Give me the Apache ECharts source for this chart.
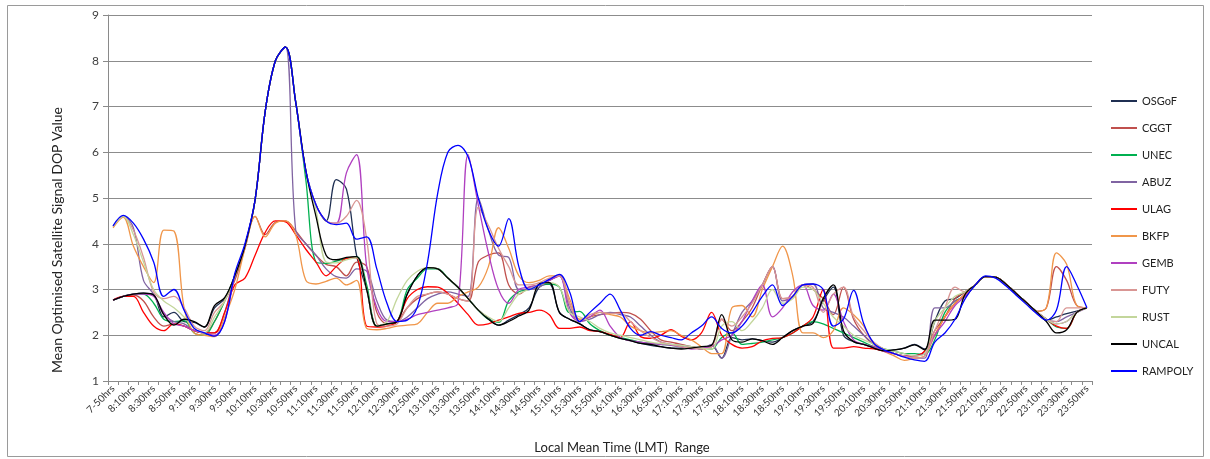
<!DOCTYPE html>
<html>
<head>
<meta charset="utf-8">
<script src="https://cdn.jsdelivr.net/npm/echarts@6/dist/echarts.min.js"></script>
<style>
  html, body { margin: 0; padding: 0; background: #fff; }
  #main { width: 1210px; height: 459px; }
</style>
</head>
<body>
<div id="main"></div>
<script>
// time slots, 10 min apart (label every other one)
var times = [
  '7-50hrs','8:00hrs','8:10hrs','8:20hrs','8:30hrs','8:40hrs','8:50hrs','9:00hrs','9:10hrs','9:20hrs',
  '9:30hrs','9:40hrs','9:50hrs','10:00hrs','10:10hrs','10:20hrs','10:30hrs','10:40hrs','10:50hrs','11:00hrs',
  '11:10hrs','11:20hrs','11:30hrs','11:40hrs','11:50hrs','12:00hrs','12:10hrs','12:20hrs','12:30hrs','12:40hrs',
  '12:50hrs','13:00hrs','13:10hrs','13:20hrs','13:30hrs','13:40hrs','13:50hrs','14:00hrs','14:10hrs','14:20hrs',
  '14:30hrs','14:40hrs','14:50hrs','15:00hrs','15:10hrs','15:20hrs','15:30hrs','15:40hrs','15:50hrs','16:00hrs',
  '16:10hrs','16:20hrs','16:30hrs','16:40hrs','16:50hrs','17:00hrs','17:10hrs','17:20hrs','17:30hrs','17:40hrs',
  '17:50hrs','18:00hrs','18:10hrs','18:20hrs','18:30hrs','18:40hrs','18:50hrs','19:00hrs','19:10hrs','19:20hrs',
  '19:30hrs','19:40hrs','19:50hrs','20:00hrs','20:10hrs','20:20hrs','20:30hrs','20:40hrs','20:50hrs','21:00hrs',
  '21:10hrs','21:20hrs','21:30hrs','21:40hrs','21:50hrs','22:00hrs','22:10hrs','22:20hrs','22:30hrs','22:40hrs',
  '22:50hrs','23:00hrs','23:10hrs','23:20hrs','23:30hrs','23:40hrs','23:50hrs'
];

var yTicks = [1, 2, 3, 4, 5, 6, 7, 8, 9];

var osgof = [
  2.77, 2.85, 2.9, 2.92, 2.88, 2.4, 2.5, 2.3, 2.28, 2.18,
  2.6, 2.8, 3.3, 3.95, 4.96, 6.9, 8.0, 8.3, 7.1, 5.6,
  4.85, 4.5, 5.4, 5.2, 3.75, 3.0, 2.2, 2.25, 2.3, 2.9,
  3.3, 3.48, 3.45, 3.25, 3.05, 2.8, 2.55, 2.38, 2.22, 2.33,
  2.45, 2.6, 3.05, 3.12, 2.5, 2.35, 2.25, 2.12, 2.08, 2.0,
  1.93, 1.88, 1.82, 1.78, 1.75, 1.72, 1.72, 1.75, 1.7, 1.78,
  1.5, 1.95, 1.9, 1.92, 1.88, 1.85, 1.95, 2.1, 2.2, 2.3,
  2.75, 3.05, 2.0, 1.86, 1.8, 1.72, 1.66, 1.68, 1.72, 1.8,
  1.7, 2.3, 2.75, 2.8, 2.95, 3.1, 3.28, 3.27, 3.12, 2.92,
  2.72, 2.52, 2.33, 2.4, 2.47, 2.53, 2.6
];
var cggt = [
  2.77, 2.85, 2.88, 2.75, 2.4, 2.2, 2.25, 2.2, 2.1, 2.05,
  2.3, 2.75, 3.2, 3.9, 4.6, 4.2, 4.47, 4.5, 4.28, 4.0,
  3.75, 3.55, 3.5, 3.3, 3.6, 3.5, 2.5, 2.25, 2.3, 2.6,
  2.8, 2.9, 2.95, 2.9, 2.8, 2.75, 3.6, 3.75, 3.8, 3.1,
  2.9, 3.05, 3.1, 3.2, 3.3, 2.7, 2.3, 2.4, 2.45, 2.48,
  2.5, 2.48, 2.35, 2.1, 1.9, 1.85, 1.8, 1.75, 1.72, 1.75,
  2.35, 2.1, 2.3, 2.6, 3.1, 3.5, 2.8, 2.85, 3.1, 3.0,
  2.8, 2.45, 3.05, 2.35, 2.0, 1.8, 1.7, 1.6, 1.55, 1.55,
  1.65, 2.1, 2.4, 2.8, 2.95, 3.1, 3.28, 3.27, 3.12, 2.92,
  2.72, 2.52, 2.6, 3.5, 3.2, 2.65, 2.6
];
var unec = [
  2.77, 2.85, 2.9, 2.9, 2.7, 2.35, 2.3, 2.32, 2.05, 2.0,
  2.3, 2.75, 3.3, 3.95, 4.96, 6.9, 8.0, 8.3, 7.1, 5.4,
  3.6, 3.57, 3.62, 3.68, 3.72, 3.1, 2.2, 2.25, 2.3, 3.0,
  3.25, 3.45, 3.45, 3.25, 3.05, 2.8, 2.55, 2.35, 2.28, 2.75,
  2.95, 3.0, 3.1, 3.12, 3.05, 2.5, 2.52, 2.25, 2.1, 2.0,
  1.95, 1.9, 1.85, 1.82, 1.8, 1.78, 1.75, 1.72, 1.72, 1.7,
  1.95, 2.05, 1.8, 1.82, 1.85, 1.9, 1.95, 2.05, 2.2, 2.3,
  2.25, 2.15, 2.05, 1.95, 1.85, 1.75, 1.7, 1.65, 1.6, 1.6,
  1.58, 1.9, 2.5, 2.75, 2.85, 3.1, 3.28, 3.27, 3.12, 2.92,
  2.72, 2.52, 2.35, 2.18, 2.15, 2.5, 2.6
];
var abuz = [
  4.38, 4.6, 4.35, 3.2, 2.9, 2.45, 2.3, 2.25, 2.1, 2.05,
  2.05, 2.5, 3.3, 3.95, 4.96, 6.9, 8.0, 8.3, 4.3, 4.0,
  3.75, 3.45, 3.28, 3.25, 3.45, 3.4, 2.75, 2.33, 2.3, 2.4,
  2.6, 2.8, 2.9, 2.95, 2.9, 2.85, 5.0, 4.3, 3.75, 3.7,
  3.0, 3.0, 3.05, 3.2, 3.3, 2.6, 2.3, 2.35, 2.45, 2.5,
  2.45, 2.4, 2.2, 2.0, 1.85, 1.8, 1.78, 1.75, 1.7, 1.8,
  1.5, 2.0, 2.5, 2.75, 3.1, 3.5, 2.75, 2.85, 3.1, 3.12,
  2.6, 2.5, 2.4, 2.2, 2.0, 1.8, 1.7, 1.6, 1.55, 1.5,
  1.5, 2.6, 2.6, 2.75, 2.85, 3.1, 3.28, 3.27, 3.12, 2.92,
  2.72, 2.52, 2.35, 2.3, 2.4, 2.5, 2.6
];
var ulag = [
  2.77, 2.85, 2.85, 2.5, 2.2, 2.1, 2.25, 2.2, 2.1, 2.05,
  2.05, 2.5, 3.1, 3.25, 3.75, 4.25, 4.5, 4.48, 4.2, 3.88,
  3.6, 3.3, 3.5, 3.68, 3.7, 2.2, 2.18, 2.2, 2.3, 2.8,
  3.0, 3.06, 3.05, 2.92, 2.7, 2.45, 2.22, 2.25, 2.33, 2.4,
  2.48, 2.5, 2.55, 2.45, 2.15, 2.15, 2.18, 2.1, 2.08, 2.02,
  1.95, 2.3, 1.97, 1.93, 2.0, 2.12, 1.98, 1.9, 2.05, 2.5,
  2.0, 1.8, 1.72, 1.75, 1.88, 1.93, 1.95, 2.05, 2.2, 2.4,
  3.0, 1.72, 1.72, 1.75, 1.72, 1.7, 1.65, 1.6, 1.55, 1.55,
  1.65, 2.0, 2.4, 2.7, 2.9, 3.1, 3.28, 3.27, 3.12, 2.92,
  2.72, 2.52, 2.35, 2.2, 2.15, 2.5, 2.6
];
var bkfp = [
  4.35, 4.58, 3.95, 3.5, 3.15, 4.3, 4.28, 2.6, 2.05, 2.0,
  1.97, 2.4, 3.0, 3.9, 4.6, 4.15, 4.45, 4.5, 4.2, 3.2,
  3.12, 3.18, 3.25, 3.1, 3.2, 2.15, 2.12, 2.15, 2.2, 2.22,
  2.25, 2.5, 2.7, 2.7, 2.85, 2.95, 3.05, 3.5, 4.35, 3.9,
  3.3, 3.15, 3.2, 3.3, 3.3, 2.8, 2.35, 2.4, 2.5, 2.45,
  2.4, 2.2, 2.1, 2.05, 2.08, 2.1, 2.0, 1.9, 1.75, 1.6,
  1.6, 2.6, 2.65, 2.4, 3.0, 3.5, 3.95, 3.3, 2.05, 2.05,
  1.95, 2.1, 2.6, 2.45, 2.2, 1.8, 1.65, 1.55, 1.45, 1.5,
  1.55, 2.0, 2.4, 2.7, 2.9, 3.1, 3.28, 3.27, 3.12, 2.92,
  2.72, 2.52, 2.6, 3.8, 3.55, 2.65, 2.6
];
var gemb = [
  2.77, 2.85, 2.9, 2.9, 2.85, 2.5, 2.25, 2.2, 2.1, 2.05,
  2.0, 2.3, 3.3, 3.95, 4.96, 6.9, 8.0, 8.3, 7.1, 5.6,
  4.85, 4.5, 4.45, 5.55, 5.95, 3.5, 2.6, 2.3, 2.3, 2.35,
  2.45, 2.5, 2.55, 2.6, 2.7, 5.95, 4.85, 3.8, 3.0, 2.7,
  3.0, 3.05, 3.1, 3.2, 3.3, 2.5, 2.3, 2.4, 2.55, 2.2,
  1.95, 1.88, 1.85, 1.82, 1.8, 1.78, 1.75, 1.7, 1.72, 1.75,
  1.9, 2.0, 2.3, 2.75, 3.1, 2.4, 2.6, 2.95, 3.1, 2.65,
  2.55, 2.9, 2.3, 1.9, 1.8, 1.75, 1.65, 1.6, 1.55, 1.55,
  1.6, 2.0, 2.3, 2.65, 2.85, 3.1, 3.28, 3.27, 3.12, 2.92,
  2.72, 2.52, 2.35, 2.25, 2.3, 2.5, 2.6
];
var futy = [
  4.38, 4.6, 4.3, 3.7, 2.95, 2.8, 2.85, 2.6, 2.2, 2.1,
  2.5, 2.75, 3.3, 3.95, 4.96, 6.9, 8.0, 8.3, 7.1, 5.6,
  4.85, 4.5, 4.45, 4.6, 4.95, 4.1, 2.25, 2.2, 2.25, 2.6,
  2.85, 2.9, 2.95, 2.9, 2.8, 2.75, 4.8, 4.4, 3.9, 3.5,
  3.1, 3.1, 3.15, 3.25, 3.3, 2.7, 2.3, 2.45, 2.5, 2.48,
  2.48, 2.3, 2.1, 1.95, 1.85, 1.8, 1.75, 1.72, 1.7, 1.75,
  2.35, 2.2, 2.4, 2.7, 3.1, 3.5, 2.8, 2.85, 3.1, 3.05,
  2.5, 2.9, 3.05, 2.4, 2.1, 1.85, 1.7, 1.6, 1.55, 1.5,
  1.55, 2.1, 2.6, 3.05, 2.95, 3.1, 3.28, 3.27, 3.12, 2.92,
  2.72, 2.52, 2.35, 2.3, 2.6, 2.6, 2.6
];
var rust = [
  4.38, 4.6, 4.2, 3.6, 3.0, 2.75, 2.6, 2.4, 2.15, 2.05,
  2.4, 2.75, 3.3, 3.95, 4.96, 6.9, 8.0, 8.3, 7.1, 5.6,
  4.75, 3.6, 3.58, 3.65, 3.7, 3.0, 2.2, 2.3, 2.8, 3.2,
  3.4, 3.48, 3.45, 3.25, 3.05, 2.8, 2.55, 2.4, 2.3, 2.6,
  2.9, 3.0, 3.1, 3.15, 3.05, 2.5, 2.4, 2.3, 2.15, 2.05,
  2.0, 1.95, 1.9, 1.85, 1.82, 1.8, 1.78, 1.75, 1.72, 1.7,
  2.2, 2.3, 2.1, 2.3, 2.6, 3.0, 2.7, 2.8, 3.05, 3.0,
  2.7, 2.4, 2.2, 2.0, 1.9, 1.8, 1.7, 1.65, 1.6, 1.55,
  1.6, 2.3, 2.6, 2.85, 2.95, 3.1, 3.28, 3.27, 3.12, 2.92,
  2.72, 2.52, 2.35, 2.25, 2.3, 2.5, 2.6
];
var uncal = [
  2.77, 2.85, 2.9, 2.92, 2.88, 2.45, 2.22, 2.35, 2.3, 2.18,
  2.65, 2.82, 3.3, 3.95, 4.96, 6.9, 8.0, 8.3, 7.1, 5.6,
  4.6, 3.75, 3.65, 3.7, 3.72, 3.0, 2.2, 2.25, 2.3, 2.9,
  3.3, 3.48, 3.45, 3.25, 3.05, 2.8, 2.55, 2.35, 2.22, 2.3,
  2.42, 2.55, 3.12, 3.15, 2.5, 2.35, 2.25, 2.12, 2.08, 2.0,
  1.93, 1.88, 1.82, 1.8, 1.75, 1.72, 1.7, 1.72, 1.75, 1.78,
  2.45, 1.9, 1.85, 1.92, 1.88, 1.8, 1.95, 2.1, 2.2, 2.26,
  2.8, 3.1, 2.1, 1.86, 1.8, 1.72, 1.66, 1.68, 1.72, 1.79,
  1.68, 2.33, 2.33, 2.35, 2.9, 3.1, 3.28, 3.27, 3.12, 2.92,
  2.72, 2.52, 2.3, 2.05, 2.12, 2.5, 2.6
];
var rampoly = [
  4.39, 4.62, 4.45, 4.1, 3.6, 2.85, 3.0, 2.55, 2.15, 2.05,
  1.98, 2.3, 3.35, 4.0, 4.96, 6.9, 8.0, 8.3, 7.1, 5.6,
  4.85, 4.5, 4.42, 4.45, 4.1, 4.15, 3.45, 2.7, 2.3, 2.33,
  2.62, 3.6, 5.1, 6.0, 6.15, 5.9, 5.0, 4.3, 3.95, 4.55,
  3.5, 3.0, 3.1, 3.22, 3.33, 2.95, 2.3, 2.5, 2.7, 2.9,
  2.55, 2.15, 2.0, 2.08, 2.0, 1.95, 1.9, 2.05, 2.2, 2.4,
  2.15, 2.05, 2.2, 2.5, 2.85, 3.1, 2.65, 2.85, 3.1, 3.12,
  3.0, 2.2, 2.35, 2.98, 2.25, 1.82, 1.68, 1.6, 1.52, 1.46,
  1.43, 1.85, 2.05, 2.35, 2.8, 3.1, 3.3, 3.25, 3.08, 2.88,
  2.68, 2.48, 2.33, 2.55, 3.5, 3.1, 2.6
];

var names = ['OSGoF', 'CGGT', 'UNEC', 'ABUZ', 'ULAG', 'BKFP', 'GEMB', 'FUTY', 'RUST', 'UNCAL', 'RAMPOLY'];
var values = [osgof, cggt, unec, abuz, ulag, bkfp, gemb, futy, rust, uncal, rampoly];
var colors = ['#1f2f52', '#c0504d', '#00b050', '#8064a2', '#ff0000', '#f0964a', '#b040c0', '#d99694', '#c3d69b', '#000000', '#0000ff'];

var font = 'Lato, "Open Sans", sans-serif';
var chart = echarts.init(document.getElementById('main'));

var series = [];
for (var k = 0; k < names.length; k++) {
  series.push({
    name: names[k],
    type: 'line',
    data: values[k],
    smooth: 0.35,
    showSymbol: false,
    lineStyle: { width: 1.3 },
    emphasis: { disabled: true }
  });
}

var option = {
  animation: false,
  color: colors,
  textStyle: { fontFamily: font },
  grid: { left: 108, top: 15, right: 118, bottom: 78 },
  graphic: [{
    type: 'rect',
    shape: { x: 7.5, y: 5.5, width: 1196, height: 451 },
    style: { fill: 'none', stroke: '#9a9a9a', lineWidth: 1 },
    silent: true
  }],
  legend: {
    orient: 'vertical',
    left: 1106,
    top: 89,
    itemWidth: 26,
    itemHeight: 2,
    itemGap: 13,
    icon: 'rect',
    data: names,
    textStyle: { fontSize: 11, color: '#222', lineHeight: 14, fontFamily: font }
  },
  xAxis: {
    type: 'category',
    data: times,
    boundaryGap: true,
    name: 'Local Mean Time (LMT)  Range',
    nameLocation: 'middle',
    nameGap: 60,
    nameTextStyle: { fontSize: 13, color: '#222', padding: [0, 0, 0, 44] },
    axisLine: { lineStyle: { color: '#8a8a8a', width: 1 } },
    axisTick: { show: true, interval: 0, length: 4, lineStyle: { color: '#8a8a8a' } },
    axisLabel: { interval: 1, rotate: 45, fontSize: 10, color: '#333', margin: 6 },
    splitLine: { show: false }
  },
  yAxis: {
    type: 'value',
    min: yTicks[0],
    max: yTicks[yTicks.length - 1],
    interval: 1,
    name: 'Mean Optimised Satellite Signal DOP Value',
    nameLocation: 'middle',
    nameGap: 44,
    nameTextStyle: { fontSize: 14, color: '#222', padding: [0, 84, 0, 0] },
    axisLine: { show: true, lineStyle: { color: '#8a8a8a', width: 1 } },
    axisTick: { show: true, length: 5, lineStyle: { color: '#8a8a8a' } },
    axisLabel: { fontSize: 12, color: '#404040', margin: 9 },
    splitLine: { lineStyle: { color: '#8c8c8c', width: 1 } }
  },
  series: series
};

chart.setOption(option);
</script>
</body>
</html>
